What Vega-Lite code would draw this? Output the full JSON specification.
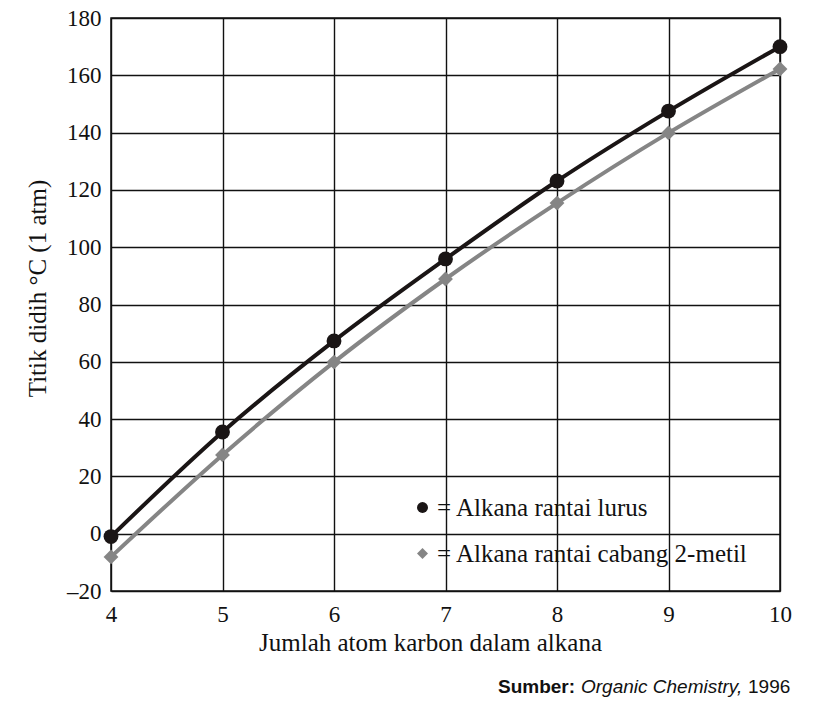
{
  "$schema": "https://vega.github.io/schema/vega-lite/v6.json",
  "autosize": {"type": "none"},
  "padding": {"left": 111, "top": 18, "right": 39, "bottom": 115},
  "width": 669,
  "height": 573,
  "background": "white",
  "config": {
    "view": {"stroke": "#111111", "strokeWidth": 1.5},
    "font": "Liberation Serif"
  },
  "datasets": {
    "pts": [
      {"n": 4, "temp": -1, "series": "Alkana rantai lurus"},
      {"n": 5, "temp": 35.5, "series": "Alkana rantai lurus"},
      {"n": 6, "temp": 67.3, "series": "Alkana rantai lurus"},
      {"n": 7, "temp": 95.9, "series": "Alkana rantai lurus"},
      {"n": 8, "temp": 123.1, "series": "Alkana rantai lurus"},
      {"n": 9, "temp": 147.5, "series": "Alkana rantai lurus"},
      {"n": 10, "temp": 170, "series": "Alkana rantai lurus"},
      {"n": 4, "temp": -8.1, "series": "Alkana rantai cabang 2-metil"},
      {"n": 5, "temp": 27.5, "series": "Alkana rantai cabang 2-metil"},
      {"n": 6, "temp": 59.9, "series": "Alkana rantai cabang 2-metil"},
      {"n": 7, "temp": 88.9, "series": "Alkana rantai cabang 2-metil"},
      {"n": 8, "temp": 115.4, "series": "Alkana rantai cabang 2-metil"},
      {"n": 9, "temp": 139.9, "series": "Alkana rantai cabang 2-metil"},
      {"n": 10, "temp": 162.2, "series": "Alkana rantai cabang 2-metil"}
    ],
    "src": [
      {"n": 10, "temp": -20, "t1": "Sumber:", "t2": "Organic Chemistry,", "t3": "1996"}
    ]
  },
  "layer": [
    {
      "data": {"name": "pts"},
      "mark": {"type": "line", "interpolate": "monotone", "strokeWidth": 4},
      "encoding": {
        "x": {
          "field": "n", "type": "quantitative",
          "scale": {"domain": [4, 10], "nice": false, "zero": false},
          "axis": {
            "values": [4, 4.5, 5, 5.5, 6, 6.5, 7, 7.5, 8, 8.5, 9, 9.5, 10],
            "labelExpr": "datum.value % 1 === 0 ? datum.label : ''",
            "format": "d",
            "grid": true, "gridColor": "#111111", "gridWidth": 1.4, "gridOpacity": 1,
            "ticks": false, "domain": false,
            "labelFont": "Liberation Serif", "labelFontSize": 23, "labelColor": "#111111",
            "labelPadding": 12, "labelFlush": false, "labelOverlap": false,
            "title": "Jumlah atom karbon dalam alkana",
            "titleFont": "Liberation Serif", "titleFontSize": 25, "titleFontWeight": "normal",
            "titleColor": "#111111", "titlePadding": 4, "titleX": 319
          }
        },
        "y": {
          "field": "temp", "type": "quantitative",
          "scale": {"domain": [-20, 180], "nice": false, "zero": false},
          "axis": {
            "values": [-20, 0, 20, 40, 60, 80, 100, 120, 140, 160, 180],
            "labelExpr": "replace(datum.label, '−', '–')",
            "grid": true, "gridColor": "#111111", "gridWidth": 1.4, "gridOpacity": 1,
            "ticks": false, "domain": false,
            "labelFont": "Liberation Serif", "labelFontSize": 23, "labelColor": "#111111",
            "labelPadding": 10,
            "title": "Titik didih °C (1 atm)",
            "titleFont": "Liberation Serif", "titleFontSize": 25, "titleFontWeight": "normal",
            "titleColor": "#111111", "titlePadding": 16, "titleY": 270
          }
        },
        "color": {
          "field": "series", "type": "nominal",
          "scale": {"domain": ["Alkana rantai lurus", "Alkana rantai cabang 2-metil"], "range": ["#1a1515", "#858585"]},
          "legend": {
            "orient": "none", "legendX": 299, "legendY": 477,
            "title": null, "padding": 0,
            "labelExpr": "'= ' + datum.label",
            "labelFont": "Liberation Serif", "labelFontSize": 25, "labelColor": "#111111",
            "labelLimit": 500,
            "labelOffset": 2, "rowPadding": 20, "symbolSize": 120, "symbolStrokeWidth": 0
          }
        }
      }
    },
    {
      "data": {"name": "pts"},
      "mark": {"type": "point", "filled": true, "opacity": 1},
      "encoding": {
        "x": {"field": "n", "type": "quantitative"},
        "y": {"field": "temp", "type": "quantitative"},
        "color": {"field": "series", "type": "nominal"},
        "shape": {
          "field": "series", "type": "nominal",
          "scale": {"domain": ["Alkana rantai lurus", "Alkana rantai cabang 2-metil"], "range": ["circle", "diamond"]}
        },
        "size": {"value": 220}
      }
    },
    {
      "data": {"name": "src"},
      "mark": {"type": "text", "font": "Liberation Sans", "fontWeight": "bold", "fontSize": 19, "align": "left", "baseline": "alphabetic", "dx": -282, "dy": 102, "color": "#111111"},
      "encoding": {"x": {"field": "n", "type": "quantitative"}, "y": {"field": "temp", "type": "quantitative"}, "text": {"field": "t1"}}
    },
    {
      "data": {"name": "src"},
      "mark": {"type": "text", "font": "Liberation Sans", "fontStyle": "italic", "fontSize": 19, "align": "left", "baseline": "alphabetic", "dx": -199, "dy": 102, "color": "#111111"},
      "encoding": {"x": {"field": "n", "type": "quantitative"}, "y": {"field": "temp", "type": "quantitative"}, "text": {"field": "t2"}}
    },
    {
      "data": {"name": "src"},
      "mark": {"type": "text", "font": "Liberation Sans", "fontSize": 19, "align": "left", "baseline": "alphabetic", "dx": -32, "dy": 102, "color": "#111111"},
      "encoding": {"x": {"field": "n", "type": "quantitative"}, "y": {"field": "temp", "type": "quantitative"}, "text": {"field": "t3"}}
    }
  ]
}
